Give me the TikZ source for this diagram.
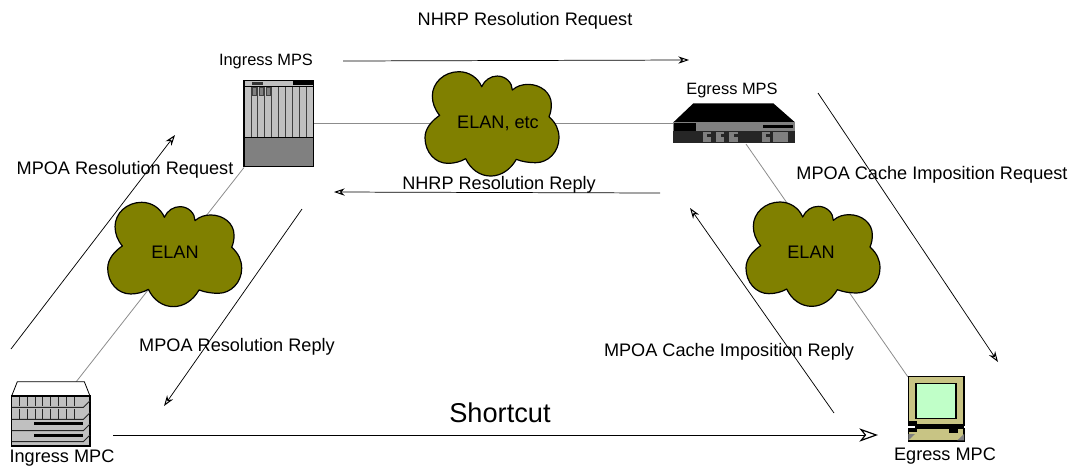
\documentclass[tikz,border=0pt]{standalone}
\usepackage{fontspec}
\setmainfont{Liberation Sans}
\usetikzlibrary{arrows.meta}
\definecolor{cloudfill}{HTML}{808000}
\definecolor{khaki}{HTML}{C8C484}
\definecolor{mint}{HTML}{C0FFC8}
\definecolor{slot}{HTML}{C0C0C0}
\definecolor{wire}{HTML}{8C8C8C}
\tikzset{
  x=0.75pt,y=-0.75pt,
  lbl/.style={font=\fontsize{13.6}{15}\selectfont,inner sep=0pt,text=black},
  lblsmall/.style={font=\fontsize{12.3}{14}\selectfont,inner sep=0pt,text=black},
  big/.style={font=\fontsize{20.4}{22}\selectfont,inner sep=0pt},
  flow/.style={draw=black,line width=0.55pt,-{Stealth[length=8pt,width=5.5pt,inset=2.5pt,open,fill=white,line width=0.75pt]}},
  flowbig/.style={draw=black,line width=0.55pt,-{Stealth[length=14pt,width=10pt,inset=4pt,open,fill=white,line width=0.9pt]}},
  wireline/.style={draw=wire,line width=0.6pt},
  box/.style={inner sep=0pt,draw=none,anchor=north west},
  zoomed/.style={x=0.25pt,y=-0.25pt},
  pics/cloudshape/.style={code={
    \begin{scope}[x=0.25pt,y=-0.25pt,shift={(-254,-283)}]
    \path[fill=cloudfill,draw=black,line width=0.9pt,line join=round]
      (97,258) .. controls (82,240) and (75,220) .. (75,200)
      .. controls (75,160) and (110,127) .. (155,127)
      .. controls (185,127) and (212,145) .. (223,172)
      .. controls (232,152) and (250,140) .. (270,140)
      .. controls (295,140) and (315,160) .. (315,182)
      .. controls (328,170) and (345,165) .. (362,165)
      .. controls (400,165) and (432,190) .. (432,225)
      .. controls (432,240) and (430,250) .. (425,262)
      .. controls (445,280) and (455,300) .. (455,325)
      .. controls (455,368) and (422,400) .. (385,400)
      .. controls (365,400) and (345,397) .. (327,390)
      .. controls (310,420) and (282,440) .. (250,440)
      .. controls (218,440) and (190,420) .. (175,388)
      .. controls (160,397) and (140,402) .. (122,402)
      .. controls (83,402) and (53,368) .. (53,325)
      .. controls (53,298) and (72,275) .. (97,258) -- cycle;
    \end{scope}
  }}
}
\begin{document}
\begin{tikzpicture}
\useasboundingbox (0,0) rectangle (1078,469);
% device placeholders
\node[box,minimum width=51.75pt,minimum height=64.5pt] (imps) at (244,81) {};
\node[box,minimum width=91.5pt,minimum height=30.75pt] (emps) at (673,103) {};
\node[box,minimum width=58.5pt,minimum height=48pt] (impc) at (12,382) {};
\node[box,minimum width=42pt,minimum height=48pt] (empc) at (908,377) {};
\coordinate (empsout) at (746,144);
\coordinate (impcin) at (76,382);
\coordinate (empsleft) at (673,123);
\coordinate (impsright) at (313,123);
% wires
\draw[wireline] (impsright) -- (empsleft);
\draw[wireline] (imps.south west) -- (impcin);
\draw[wireline] (empsout) -- (empc.north west);
% clouds
\pic at (174.7,254.3) {cloudshape};
\pic at (492,123.7) {cloudshape};
\pic at (813,254) {cloudshape};
\node[lbl] (c1) at (175,252) {ELAN};
\node[lbl] (c2) at (498,123) {ELAN, etc};
\node[lbl] (c3) at (811,252) {ELAN};
% Ingress MPS
\begin{scope}[shift={(200,60)},zoomed]
\fill[slot] (132,62) rectangle (340,232);
\fill[gray] (132,232) rectangle (340,320);
\foreach \v in {153,172,193,213,235,255,277,298,318}
  \draw[black!75,line width=0.6pt] (\v,80) -- (\v,232);
\fill[black!80] (155,65) rectangle (190,76);
\fill[black] (280,64) rectangle (340,75);
\foreach \v in {156,177,198}
  \draw[black!75,fill=gray,line width=0.4pt] (\v,82) rectangle (\v+13,105);
\draw[black,line width=0.4pt] (132,80) -- (340,80);
\draw[black,line width=0.5pt] (132,232) -- (340,232);
\draw[black,line width=1pt] (132,62) rectangle (340,320);
\end{scope}
% Egress MPS
\begin{scope}[shift={(660,90)},zoomed]
\fill[black] (100,40) -- (340,40) -- (405,97) -- (40,97) -- cycle;
\fill[gray] (40,97) rectangle (405,122);
\fill[black!85] (40,122) rectangle (405,160);
\fill[black] (42,99) rectangle (108,122);
\fill[black] (310,104) rectangle (400,114);
\foreach \v in {128,168,208,305,338,360}
  \fill[gray] (\v,127) rectangle (\v+25,156);
\foreach \v in {128,168,208,305}
  \fill[black!85] (\v+14,133) rectangle (\v+25,140);
\end{scope}
% Ingress MPC
\begin{scope}[shift={(0,370)},zoomed]
\draw[black,fill=white,line width=0.6pt] (35,78) -- (52,35) -- (253,35) -- (270,78) -- cycle;
\fill[slot] (35,78) rectangle (270,228);
\foreach \t/\b in {82/108,116/146}{
  \foreach \v in {58,82,105,128,152,175,198,222}
    \draw[black!85,line width=0.55pt] (\v,\t) -- (\v,\b);
}
\fill[black] (103,156) rectangle (248,166);
\fill[black] (103,191) rectangle (248,200);
\draw[black,line width=0.9pt] (35,78) rectangle (270,228);
\draw[black!85,line width=0.7pt] (35,112) -- (250,112) -- (270,92);
\draw[black!85,line width=0.7pt] (35,148) -- (250,148) -- (270,128);
\draw[black!85,line width=0.7pt] (35,182) -- (250,182) -- (270,162);
\draw[black!85,line width=0.7pt] (35,215) -- (250,215) -- (270,195);
\end{scope}
% Egress MPC
\begin{scope}[shift={(890,360)},zoomed]
\draw[black,fill=khaki,line width=0.8pt] (55,50) rectangle (222,195);
\draw[black,fill=mint,line width=0.8pt] (78,70) rectangle (198,175);
\draw[black,fill=khaki,line width=0.8pt] (55,205) rectangle (222,243);
\fill[black] (75,194) rectangle (222,208);
\fill[black] (55,184) rectangle (82,192);
\fill[black] (55,208) rectangle (82,216);
\fill[black] (178,208) rectangle (205,220);
\fill[gray] (55,222) -- (75,222) -- (55,241) -- cycle;
\fill[gray] (222,222) -- (202,241) -- (222,241) -- cycle;
\end{scope}
% arrow ends
\coordinate (a1s) at (343,61); \coordinate (a1e) at (689,60);
\coordinate (a2s) at (11,349); \coordinate (a2e) at (175,135);
\coordinate (a3s) at (302,209); \coordinate (a3e) at (164,406);
\coordinate (a4s) at (660,193); \coordinate (a4e) at (334,192);
\coordinate (a5s) at (818,93); \coordinate (a5e) at (998,362);
\coordinate (a6s) at (834,413); \coordinate (a6e) at (690,208);
\coordinate (a7s) at (113,435); \coordinate (a7e) at (878,435);
\draw[flow] (a1s) -- (a1e);
\draw[flow] (a2s) -- (a2e);
\draw[flow] (a3s) -- (a3e);
\draw[flow] (a4s) -- (a4e);
\draw[flow] (a5s) -- (a5e);
\draw[flow] (a6s) -- (a6e);
\draw[flowbig] (a7s) -- (a7e);
% labels
\node[lbl] (t1) at (525,21) {NHRP Resolution Request};
\node[lblsmall] (t2) at (266,61) {Ingress MPS};
\node[lblsmall] (t3) at (732,90) {Egress MPS};
\node[lbl] (t4) at (125,170) {MPOA Resolution Request};
\node[lbl] (t5) at (499,185) {NHRP Resolution Reply};
\node[lbl] (t6) at (932,175) {MPOA Cache Imposition Request};
\node[lbl] (t7) at (237,347) {MPOA Resolution Reply};
\node[lbl] (t8) at (729,352) {MPOA Cache Imposition Reply};
\node[big] (t9) at (500,413) {Shortcut};
\node[lbl] (t10) at (62,458) {Ingress MPC};
\node[lbl] (t11) at (945,456) {Egress MPC};
\end{tikzpicture}
\end{document}
